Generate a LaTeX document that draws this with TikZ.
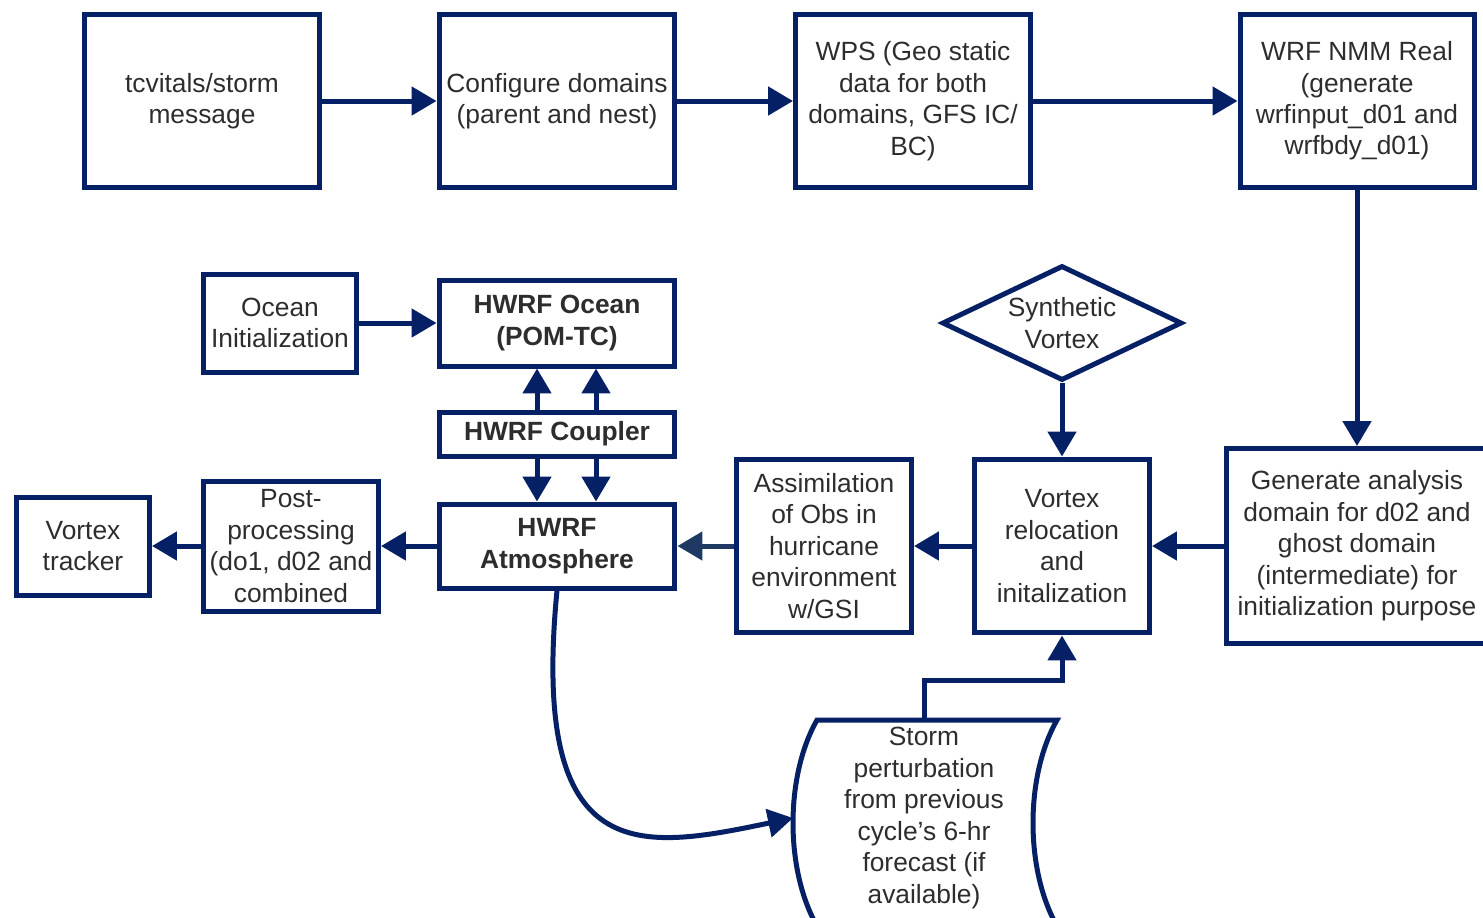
\documentclass[tikz,border=0pt]{standalone}
\usepackage{fontspec}
\setmainfont{Liberation Sans}
\usetikzlibrary{arrows.meta,shapes.geometric}
\definecolor{hwrfblue}{RGB}{5,32,100}
\definecolor{hwrfslate}{RGB}{30,58,98}
\definecolor{hwrftext}{RGB}{45,45,45}
\tikzset{
    % boxes of the flow chart and the lines between them
    proc/.style={draw=hwrfblue,line width=0.1cm,align=center,inner sep=0pt,text=hwrftext},
    decision/.style={proc,diamond,aspect=2.07,minimum width=4.8cm,minimum height=2.3cm},
    flowline/.style={draw=hwrfblue,line width=0.1cm},
    flow/.style={flowline,-{Triangle[length=0.5cm,width=0.56cm]}}
    }
\begin{document}
\begin{tikzpicture}[x=0.02cm,y=-0.02cm,font=\fontsize{15}{17.9}\selectfont]
    \useasboundingbox (0,0) rectangle (1483,917);
    % top row
    \node(tcvitals)[proc,minimum width=4.7cm,minimum height=3.48cm] at (202,101) {tcvitals/storm\\message};
    \node(configure)[proc,minimum width=4.72cm,minimum height=3.48cm] at (557,101) {Configure domains\\(parent and nest)};
    \node(wps)[proc,minimum width=4.7cm,minimum height=3.48cm] at (913,101) {WPS (Geo static\\data for both\\domains, GFS IC/\\BC)};
    \node(wrfreal)[proc,minimum width=4.68cm,minimum height=3.48cm] at (1357,101) {WRF NMM Real\\(generate\\wrfinput\_d01 and\\wrfbdy\_d01)};
    % initialization row
    \node(generate)[proc,minimum width=5.22cm,minimum height=3.9cm] at (1357,546) {Generate analysis\\domain for d02 and\\ghost domain\\(intermediate) for\\initialization purpose};
    \node(vortex)[proc,minimum width=3.5cm,minimum height=3.48cm] at (1062,546) {Vortex\\relocation\\and\\initalization};
    \node(synth)[decision] at (1062,323) {Synthetic\\Vortex};
    \node(assim)[proc,minimum width=3.5cm,minimum height=3.48cm] at (824,546) {Assimilation\\of Obs in\\hurricane\\environment\\w/GSI};
    % coupled model
    \node(atmos)[proc,minimum width=4.72cm,minimum height=1.68cm,font=\fontsize{15}{17.9}\selectfont\bfseries] at (557,546) {HWRF\\Atmosphere};
    \node(coupler)[proc,minimum width=4.72cm,minimum height=0.88cm,font=\fontsize{15}{17.9}\selectfont\bfseries] at (557,434) {HWRF Coupler};
    \node(ocean)[proc,minimum width=4.72cm,minimum height=1.72cm,font=\fontsize{15}{17.9}\selectfont\bfseries] at (557,323) {HWRF Ocean\\(POM-TC)};
    \node(oceaninit)[proc,minimum width=3.08cm,minimum height=1.96cm] at (280,323) {Ocean\\Initialization};
    \node(post)[proc,minimum width=3.5cm,minimum height=2.6cm] at (291,546) {Post-\\processing\\(do1, d02 and\\combined};
    \node(tracker)[proc,minimum width=2.66cm,minimum height=1.96cm] at (83,546) {Vortex\\tracker};
    % storm perturbation (stored data shape)
    \draw[flowline] (817,720) -- (1057,720) .. controls (1025,776) and (1025,870) .. (1057,926)
        -- (817,926) .. controls (785,870) and (785,776) .. (817,720) -- cycle;
    \node(storm)[align=center,inner sep=0pt,outer sep=0pt,text=hwrftext,minimum width=5.24cm,minimum height=3.92cm] at (924,818) {Storm\\perturbation\\from previous\\cycle's 6-hr\\forecast (if\\available)};
    \coordinate (cplA) at (537,434);
    \coordinate (cplB) at (596,434);
    \coordinate (bend) at (1062,680);
    % connectors
    \draw[flow] (tcvitals.east) -- (configure.west);
    \draw[flow] (configure.east) -- (wps.west);
    \draw[flow] (wps.east) -- (wrfreal.west);
    \draw[flow] (wrfreal.south) -- (generate.north);
    \draw[flow] (generate.west) -- (vortex.east);
    \draw[flow] (synth.south) -- (vortex.north);
    \draw[flow] (vortex.west) -- (assim.east);
    \draw[flow,draw=hwrfslate] (assim.west) -- (atmos.east);
    \draw[flow] (atmos.west) -- (post.east);
    \draw[flow] (post.west) -- (tracker.east);
    \draw[flow] (oceaninit.east) -- (ocean.west);
    \draw[flow] (cplA |- coupler.north) -- (cplA |- ocean.south);
    \draw[flow] (cplB |- coupler.north) -- (cplB |- ocean.south);
    \draw[flow] (cplA |- coupler.south) -- (cplA |- atmos.north);
    \draw[flow] (cplB |- coupler.south) -- (cplB |- atmos.north);
    \draw[flow] (storm.north) |- (bend) -- (vortex.south);
    \draw[flow] (atmos.south) .. controls (530,870) and (640,850) .. (storm.west);
\end{tikzpicture}
\end{document}
